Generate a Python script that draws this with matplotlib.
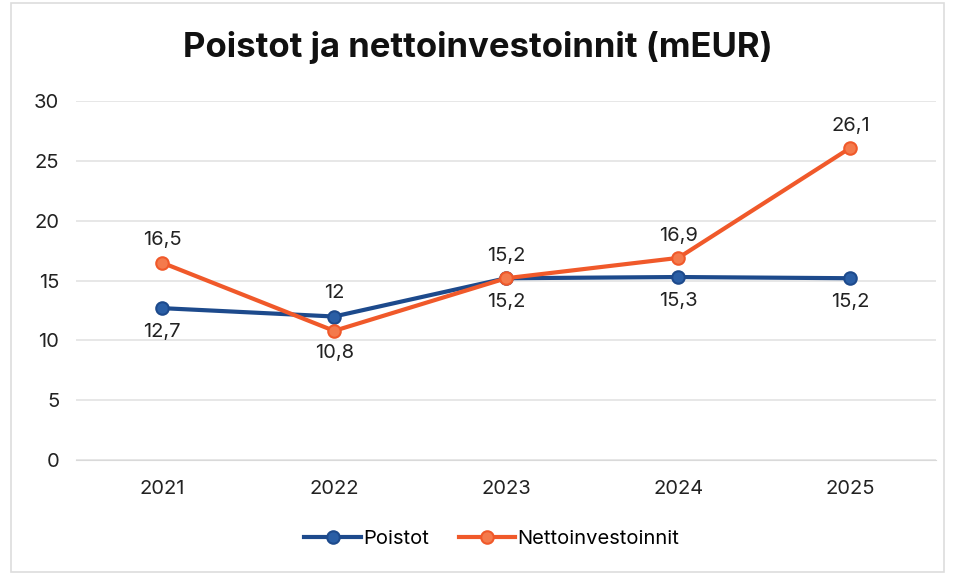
import matplotlib.pyplot as plt
from matplotlib.patches import Rectangle

vuodet = ['2021', '2022', '2023', '2024', '2025']
poistot = [12.7, 12.0, 15.2, 15.3, 15.2]
netto = [16.5, 10.8, 15.2, 16.9, 26.1]
poistot_txt = ['12,7', '12', '15,2', '15,3', '15,2']
netto_txt = ['16,5', '10,8', '15,2', '16,9', '26,1']
# label above (1) or below (-1) the point
poistot_pos = [-1, 1, -1, -1, -1]
netto_pos = [1, -1, 1, 1, 1]

sininen = '#1d4a8c'
oranssi = '#f0592a'

plt.rcParams['font.family'] = ['Inter', 'DejaVu Sans']

fig = plt.figure(figsize=(9.55, 5.78), dpi=100)
ax = fig.add_axes([0.0796, 0.204, 0.901, 0.621])

x = list(range(len(vuodet)))
ax.plot(x, poistot, color=sininen, lw=3, marker='o', ms=9,
        mfc='#2a5ea5', mec=sininen, mew=1.5, label='Poistot', zorder=3)
ax.plot(x, netto, color=oranssi, lw=3, marker='o', ms=9,
        mfc='#f47a4c', mec=oranssi, mew=1.5, label='Nettoinvestoinnit', zorder=4)

for i in x:
    ax.annotate(poistot_txt[i], (i, poistot[i]), xytext=(0, 17 * poistot_pos[i]),
                textcoords='offset points', ha='center', va='center',
                fontsize=14.5, color='#222222')
    ax.annotate(netto_txt[i], (i, netto[i]), xytext=(0, 16 * netto_pos[i]),
                textcoords='offset points', ha='center', va='center',
                fontsize=14.5, color='#222222')

ax.set_xlim(-0.5, 4.5)
ax.set_ylim(0, 30)
ax.set_yticks(range(0, 31, 5))
ax.set_xticks(x)
ax.set_xticklabels(vuodet)
ax.tick_params(axis='both', length=0, labelsize=14.5, labelcolor='#222222')
ax.tick_params(axis='x', pad=14)
ax.tick_params(axis='y', pad=12)
ax.grid(axis='y', color='#e3e3e3', lw=1.2)
ax.set_axisbelow(True)
for s in ['top', 'right', 'left']:
    ax.spines[s].set_visible(False)
ax.spines['bottom'].set_color('#d9d9d9')

fig.text(0.5, 0.918, 'Poistot ja nettoinvestoinnit (mEUR)', ha='center', va='center',
         fontsize=25, fontweight='bold', color='#111111')

fig.legend(loc='center', bbox_to_anchor=(0.515, 0.068), ncol=2, frameon=False,
           fontsize=14.5, handlelength=2.8, handletextpad=0.1, columnspacing=1.5)

fig.patches.append(Rectangle((0.012, 0.01), 0.976, 0.985, transform=fig.transFigure,
                             fill=False, ec='#dddddd', lw=1.2))

fig.savefig('out.png', dpi=100)
